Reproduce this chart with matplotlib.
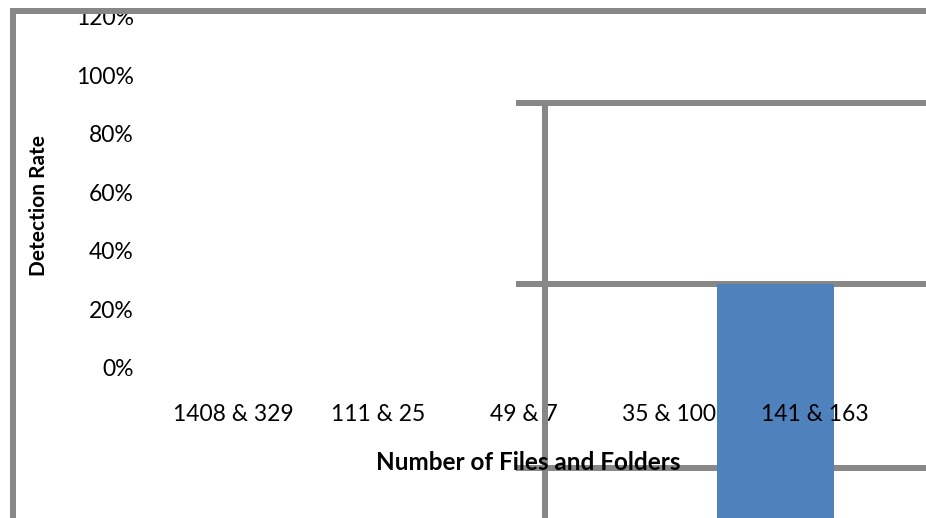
import matplotlib
matplotlib.use('Agg')
import matplotlib.pyplot as plt
from matplotlib.lines import Line2D
from matplotlib.ticker import PercentFormatter

# data
categories = ['1408 & 329', '111 & 25', '49 & 7', '35 & 100', '141 & 163']
bar_value = 0.288          # detection rate of the only visible bar
bar_pos = 3.73             # where the bar ended up on the category axis
bar_bottom = -0.6
y_ticks = [0, 0.2, 0.4, 0.6, 0.8, 1.0, 1.2]

# leftover gridline pieces
grid_levels = [0.904, 0.285, -0.341]
grid_x_start = 1.945
grid_vert_x = 2.144
grid_vert_top = 0.904

W, H = 926, 518
gray = '#878787'
blue = '#4F81BD'
plt.rcParams['font.family'] = ['Lato', 'DejaVu Sans']

fig = plt.figure(figsize=(W / 100, H / 100), dpi=100)
# axes box: category 0 at x=233px, 145.5px per category; 0% at y=368px, 100% = 293px
x0 = 233 - 0.5 * 145.5
ax = fig.add_axes([x0 / W, (H - 368) / H, 5 * 145.5 / W, 1.2 * 293 / H])
ax.set_xlim(-0.5, 4.5)
ax.set_ylim(0, 1.2)
ax.set_axisbelow(False)   # tick labels sit on top of the bar
for s in ax.spines.values():
    s.set_visible(False)

ax.set_xticks(range(len(categories)))
ax.set_xticklabels(categories)
ax.set_yticks(y_ticks)
ax.yaxis.set_major_formatter(PercentFormatter(1.0, decimals=0))
ax.tick_params(axis='both', length=0, labelsize=16.5, colors='black')
ax.tick_params(axis='y', pad=19)
ax.tick_params(axis='x', pad=26)

lw = 6 * 72 / 100
for yv in grid_levels:
    ax.plot([grid_x_start, 6], [yv, yv], color=gray, lw=lw, clip_on=False,
            solid_capstyle='butt', zorder=1)
ax.plot([grid_vert_x, grid_vert_x], [grid_vert_top, -1], color=gray, lw=lw,
        clip_on=False, solid_capstyle='butt', zorder=3)

ax.bar([bar_pos], [bar_value - bar_bottom], bottom=bar_bottom, width=0.804,
       color=blue, clip_on=False, zorder=2)

fig.text(528 / W, 1 - 463 / H, 'Number of Files and Folders', fontsize=17.5,
         fontweight='bold', ha='center', va='center', zorder=5)
fig.text(39 / W, 1 - 205 / H, 'Detection Rate', fontsize=15,
         fontweight='bold', ha='center', va='center', rotation=90)

# chart frame (left and top edges only visible)
fig.add_artist(Line2D([13 / W, 13 / W], [0, 1 - 11 / H], color=gray, lw=lw,
                      solid_capstyle='projecting', zorder=10))
fig.add_artist(Line2D([13 / W, 1], [1 - 11 / H, 1 - 11 / H], color=gray, lw=lw,
                      solid_capstyle='projecting', zorder=10))

fig.savefig('out.png', dpi=100)
